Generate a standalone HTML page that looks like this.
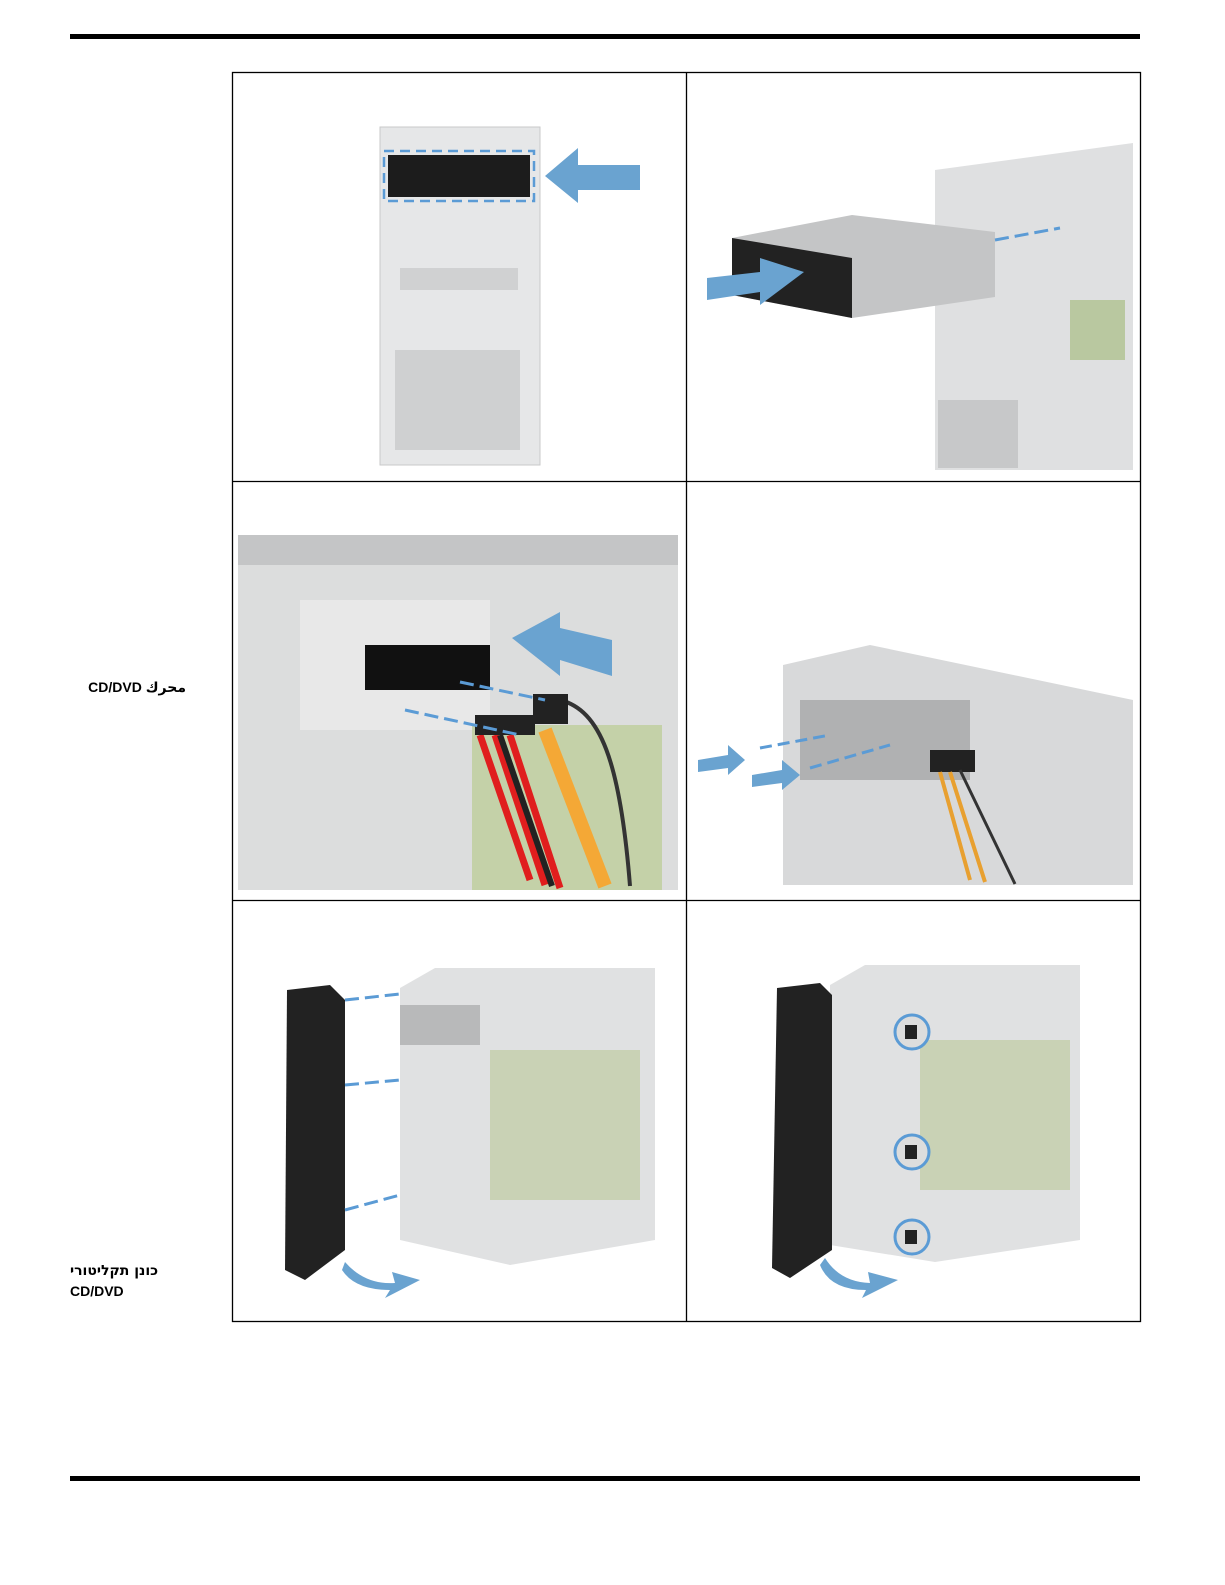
<!DOCTYPE html>
<html><head><meta charset="utf-8"><style>
body{margin:0;background:#fff;width:1225px;height:1585px;position:relative;overflow:hidden;font-family:"Liberation Sans","DejaVu Sans",sans-serif}
.rule{position:absolute;left:70px;width:1070px;height:5px;background:#000}
.lbl{position:absolute;font-weight:bold;font-size:14px;color:#000}
</style></head><body>
<div class="rule" style="top:34px"></div>
<div class="rule" style="top:1476px"></div>
<div class="lbl" style="left:70px;top:679px;direction:rtl;width:116px;text-align:right">محرك CD/DVD</div>
<div class="lbl" style="left:70px;top:1263px;width:100px;direction:rtl;text-align:left;font-family:'DejaVu Sans',sans-serif">כונן תקליטורי</div>
<div class="lbl" style="left:70px;top:1283px">CD/DVD</div>
<svg width="1225" height="1585" style="position:absolute;left:0;top:0">
<g fill="none" stroke="#000" stroke-width="1.3">
<rect x="232.5" y="72.5" width="908" height="1249"/>
<line x1="686.5" y1="72" x2="686.5" y2="1321"/>
<line x1="232" y1="481.5" x2="1140" y2="481.5"/>
<line x1="232" y1="900.5" x2="1140" y2="900.5"/>
</g>
<!-- cell1 -->
<rect x="380" y="127" width="160" height="338" fill="#e6e7e8" stroke="#c8c9ca"/>
<rect x="388" y="155" width="142" height="42" fill="#1c1c1c"/>
<rect x="384" y="151" width="150" height="50" fill="none" stroke="#5b9bd5" stroke-width="2.5" stroke-dasharray="10,6"/>
<rect x="400" y="268" width="118" height="22" fill="#d0d1d2"/>
<rect x="395" y="350" width="125" height="100" fill="#cfd0d1"/>
<polygon points="545,176 578,148 578,165 640,165 640,190 578,190 578,203" fill="#6aa3d0"/>
<!-- cell2 -->
<polygon points="935,170 1133,143 1133,470 935,470" fill="#dfe0e1"/>
<rect x="938" y="400" width="80" height="68" fill="#c7c8c9"/>
<rect x="1070" y="300" width="55" height="60" fill="#b9c8a0"/>
<polygon points="732,238 852,215 995,232 995,297 852,318 732,295" fill="#c4c5c6"/>
<polygon points="732,238 852,258 852,318 732,295" fill="#222"/>
<line x1="995" y1="240" x2="1060" y2="228" stroke="#5b9bd5" stroke-width="3" stroke-dasharray="14,6"/>
<polygon points="707,278 760,272 760,258 804,272 760,305 760,292 707,300" fill="#6aa3d0"/>
<!-- cell3 -->
<rect x="238" y="535" width="440" height="355" fill="#dcdddd"/>
<rect x="238" y="535" width="440" height="30" fill="#c4c5c6"/>
<rect x="300" y="600" width="190" height="130" fill="#e8e8e8"/>
<rect x="365" y="645" width="125" height="45" fill="#111"/>
<rect x="472" y="725" width="190" height="165" fill="#c4d1a8"/>
<polygon points="512,638 560,612 560,628 612,640 612,676 560,660 560,676" fill="#6aa3d0"/>
<path d="M480 735 L530 880 M495 735 L545 885 M510 735 L560 888" stroke="#e01e1e" stroke-width="7" fill="none"/>
<path d="M500 735 L552 886" stroke="#222" stroke-width="6" fill="none"/>
<path d="M545 730 L605 886" stroke="#f4a836" stroke-width="14" fill="none"/>
<path d="M560 700 C600 710 620 760 630 886" stroke="#333" stroke-width="4" fill="none"/>
<rect x="533" y="694" width="35" height="30" fill="#222"/>
<rect x="475" y="715" width="60" height="20" fill="#222"/>
<line x1="405" y1="710" x2="520" y2="735" stroke="#5b9bd5" stroke-width="3" stroke-dasharray="14,6"/>
<line x1="460" y1="682" x2="545" y2="700" stroke="#5b9bd5" stroke-width="3" stroke-dasharray="14,6"/>
<!-- cell4 -->
<polygon points="783,665 870,645 1133,700 1133,885 783,885" fill="#d8d9da"/>
<rect x="800" y="700" width="170" height="80" fill="#b0b1b2"/>
<rect x="930" y="750" width="45" height="22" fill="#222"/>
<path d="M940 772 L970 880 M950 772 L985 882" stroke="#e8a030" stroke-width="4" fill="none"/>
<path d="M960 770 L1015 884" stroke="#333" stroke-width="3" fill="none"/>
<line x1="760" y1="748" x2="830" y2="735" stroke="#5b9bd5" stroke-width="3" stroke-dasharray="12,6"/>
<line x1="810" y1="768" x2="890" y2="745" stroke="#5b9bd5" stroke-width="3" stroke-dasharray="12,6"/>
<polygon points="698,760 728,755 728,745 745,760 728,775 728,768 698,772" fill="#6aa3d0"/>
<polygon points="752,775 782,770 782,760 800,775 782,790 782,783 752,787" fill="#6aa3d0"/>
<!-- cell5 -->
<polygon points="400,988 435,968 655,968 655,1240 510,1265 400,1240" fill="#e0e1e2"/>
<rect x="490" y="1050" width="150" height="150" fill="#c9d2b5"/>
<rect x="400" y="1005" width="80" height="40" fill="#b8b9ba"/>
<path d="M287 990 L330 985 L345 1000 L345 1250 L305 1280 L285 1270 Z" fill="#222"/>
<line x1="345" y1="1000" x2="400" y2="994" stroke="#5b9bd5" stroke-width="3" stroke-dasharray="14,6"/>
<line x1="345" y1="1085" x2="400" y2="1080" stroke="#5b9bd5" stroke-width="3" stroke-dasharray="14,6"/>
<line x1="345" y1="1210" x2="400" y2="1195" stroke="#5b9bd5" stroke-width="3" stroke-dasharray="14,6"/>
<path d="M345 1262 Q365 1285 395 1283 L392 1272 L420 1280 L385 1298 L390 1290 Q355 1290 342 1270 Z" fill="#6aa3d0"/>
<!-- cell6 -->
<polygon points="830,985 865,965 1080,965 1080,1240 935,1262 830,1245" fill="#e0e1e2"/>
<rect x="920" y="1040" width="150" height="150" fill="#c9d2b5"/>
<path d="M777 988 L820 983 L832 995 L832 1250 L790 1278 L772 1268 Z" fill="#222"/>
<circle cx="912" cy="1032" r="17" fill="#ddd" stroke="#5b9bd5" stroke-width="3"/>
<circle cx="912" cy="1152" r="17" fill="#ddd" stroke="#5b9bd5" stroke-width="3"/>
<circle cx="912" cy="1237" r="17" fill="#ddd" stroke="#5b9bd5" stroke-width="3"/>
<rect x="905" y="1025" width="12" height="14" fill="#222"/>
<rect x="905" y="1145" width="12" height="14" fill="#222"/>
<rect x="905" y="1230" width="12" height="14" fill="#222"/>
<path d="M825 1258 Q840 1282 870 1283 L868 1272 L898 1280 L862 1298 L866 1290 Q830 1290 820 1265 Z" fill="#6aa3d0"/>
</svg>
</body></html>
